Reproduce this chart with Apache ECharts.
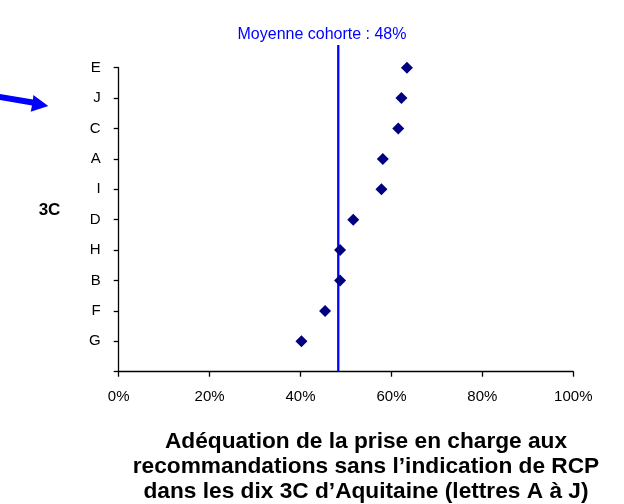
<!DOCTYPE html>
<html>
<head>
<meta charset="utf-8">
<script src="https://cdn.jsdelivr.net/npm/echarts@6/dist/echarts.min.js"></script>
<style>
html,body{margin:0;padding:0;background:#fff;}
#chart{width:624px;height:504px;}
</style>
</head>
<body>
<div id="chart"></div>
<script>
// Categories from bottom (y=1) to top (y=10)
var categories = ['G', 'F', 'B', 'H', 'D', 'I', 'A', 'C', 'J', 'E'];
var values = [40.2, 45.4, 48.7, 48.7, 51.6, 57.8, 58.1, 61.5, 62.2, 63.4];
var meanValue = 48.3;
var meanLabel = 'Moyenne cohorte : 48%';
var xTicks = [0, 20, 40, 60, 80, 100];
var titleLines = [
  'Adéquation de la prise en charge aux',
  'recommandations sans l’indication de RCP',
  'dans les dix 3C d’Aquitaine (lettres A à J)'
];
var yAxisName = '3C';

var FONT = '"Liberation Sans", Arial, sans-serif';

var points = values.map(function (v, i) { return [v, i + 1]; });

var chart = echarts.init(document.getElementById('chart'), null, {renderer: 'canvas'});
chart.setOption({
  animation: false,
  backgroundColor: '#ffffff',
  grid: {left: 118.7, right: 50.7, top: 67.7, bottom: 132.3, containLabel: false},
  title: [
    {
      text: titleLines.join('\n'),
      left: 361, top: 424, textAlign: 'center',
      textStyle: {fontFamily: FONT, fontSize: 22.7, fontWeight: 'bold', color: '#000', lineHeight: 25}
    },
    {
      text: yAxisName,
      left: 44.5, top: 197, textAlign: 'center',
      textStyle: {fontFamily: FONT, fontSize: 17, fontWeight: 'bold', color: '#000'}
    },
    {
      text: meanLabel,
      left: 317, top: 22, textAlign: 'center',
      textStyle: {fontFamily: FONT, fontSize: 16, fontWeight: 'normal', color: '#0000FF'}
    }
  ],
  xAxis: {
    type: 'value', min: 0, max: 100, interval: 20,
    axisLine: {show: true, lineStyle: {color: '#000', width: 1.3}},
    axisTick: {show: true, length: 5, inside: false, lineStyle: {color: '#000', width: 1.3}},
    splitLine: {show: false},
    axisLabel: {
      margin: 18, color: '#000', fontFamily: FONT, fontSize: 15,
      customValues: xTicks,
      formatter: function (v) { return v + '%'; }
    }
  },
  yAxis: {
    type: 'value', min: 0, max: 10, interval: 1,
    axisLine: {show: true, lineStyle: {color: '#000', width: 1.3}},
    axisTick: {show: true, length: 5, inside: false, lineStyle: {color: '#000', width: 1.3}},
    splitLine: {show: false},
    axisLabel: {
      margin: 18, color: '#000', fontFamily: FONT, fontSize: 15,
      formatter: function (v) { return categories[v - 1] || ''; }
    }
  },
  graphic: [
    {
      type: 'polygon',
      shape: {points: [[0, 94], [33, 99.5], [33.3, 95], [48.3, 106], [30.7, 111.7], [32, 105.5], [0, 100]]},
      style: {fill: '#0000FF'}
    }
  ],
  series: [
    {
      type: 'line',
      data: [[meanValue, 0], [meanValue, 10.75]],
      clip: false,
      symbol: 'none',
      lineStyle: {color: '#0000FF', width: 2.3},
      z: 1
    },
    {
      type: 'scatter',
      data: points,
      symbol: 'diamond',
      symbolSize: 12,
      itemStyle: {color: '#000080', opacity: 1},
      z: 3
    }
  ]
});
</script>
</body>
</html>
